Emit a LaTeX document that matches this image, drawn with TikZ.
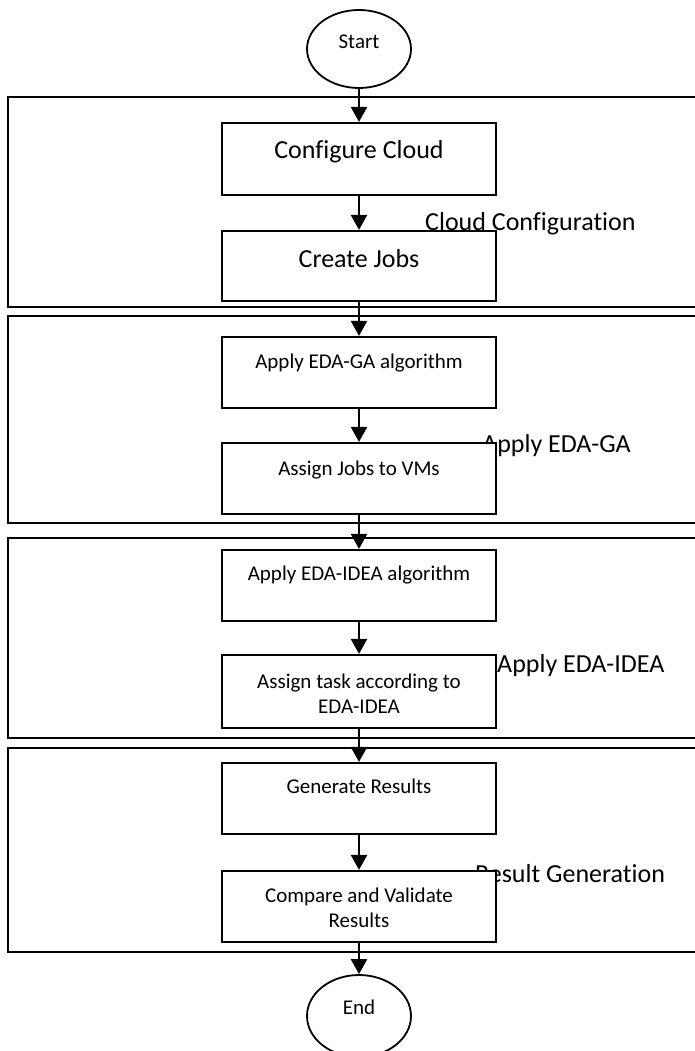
\documentclass[tikz,border=0pt]{standalone}
\usepackage{fontspec}
\setmainfont{Carlito}[Ligatures=NoCommon]
\usetikzlibrary{arrows.meta,shapes.geometric}

% two centred lines whose baseline is the first line's
\newcommand{\twolines}[2]{\begin{tabular}[t]{@{}c@{}}#1\\#2\end{tabular}}

\tikzset{
  big/.style={font=\fontsize{26}{31}\selectfont},
  small/.style={font=\fontsize{21}{25}\selectfont},
  phase/.style={draw=black, line width=2.5pt},
  stepbox/.style={draw=black, fill=white, line width=2.2pt, rectangle,
                  minimum width=274pt, inner sep=0pt},
  terminal/.style={draw=black, fill=white, line width=1.8pt, ellipse,
                   minimum width=104pt, inner sep=0pt},
  txt/.style={anchor=base, inner sep=0pt},
  phaselabel/.style={anchor=base west, inner sep=0pt, big},
  flow/.style={line width=2.5pt, -{Triangle[width=16pt,length=15pt]}}
}

\begin{document}
\begin{tikzpicture}[x=1pt, y=-1pt]
\useasboundingbox (0,0) rectangle (695,1051);
\clip (0,0) rectangle (695,1051);

% phase frames (open to the right)
\draw[phase] (8,97)  rectangle (720,307);
\draw[phase] (8,316) rectangle (720,523);
\draw[phase] (8,538) rectangle (720,738);
\draw[phase] (8,748) rectangle (720,952);

% phase titles
\node[phaselabel] (l1) at (425,230) {Cloud Configuration};
\node[phaselabel] (l2) at (482,452) {Apply EDA-GA};
\node[phaselabel] (l3) at (497,672) {Apply EDA-IDEA};
\node[phaselabel] (l4) at (475,882) {Result Generation};

% process steps
\node[stepbox, minimum height=72pt] (b1) at (359,159) {};
\node[stepbox, minimum height=70pt] (b2) at (359,266) {};
\node[stepbox, minimum height=71pt] (b3) at (359,372.5) {};
\node[stepbox, minimum height=71pt] (b4) at (359,478.5) {};
\node[stepbox, minimum height=71pt] (b5) at (359,585.5) {};
\node[stepbox, minimum height=73pt] (b6) at (359,691.5) {};
\node[stepbox, minimum height=71pt] (b7) at (359,798.5) {};
\node[stepbox, minimum height=71pt] (b8) at (359,906.5) {};

\node[txt, big]   (t1) at (359,159) {Configure Cloud};
\node[txt, big]   (t2) at (359,267) {Create Jobs};
\node[txt, small] (t3) at (359,368) {Apply EDA-GA algorithm};
\node[txt, small] (t4) at (359,475) {Assign Jobs to VMs};
\node[txt, small] (t5) at (359,580) {Apply EDA-IDEA algorithm};
\node[txt, small] (t6) at (359,688) {\twolines{Assign task according to}{EDA-IDEA}};
\node[txt, small] (t7) at (359,793) {Generate Results};
\node[txt, small] (t8) at (359,902) {\twolines{Compare and Validate}{Results}};

% terminals
\node[terminal, minimum height=78pt] (start) at (359,49) {};
\node[txt, small] (ts) at (359,49) {Start};
\node[terminal, minimum height=82pt] (end) at (359,1016) {};
\node[txt, small] (te) at (359,1014) {End};

% flow
\draw[flow] (start) -- (b1);
\draw[flow] (b1) -- (b2);
\draw[flow] (b2) -- (b3);
\draw[flow] (b3) -- (b4);
\draw[flow] (b4) -- (b5);
\draw[flow] (b5) -- (b6);
\draw[flow] (b6) -- (b7);
\draw[flow] (b7) -- (b8);
\draw[flow] (b8) -- (end);
\end{tikzpicture}
\end{document}
